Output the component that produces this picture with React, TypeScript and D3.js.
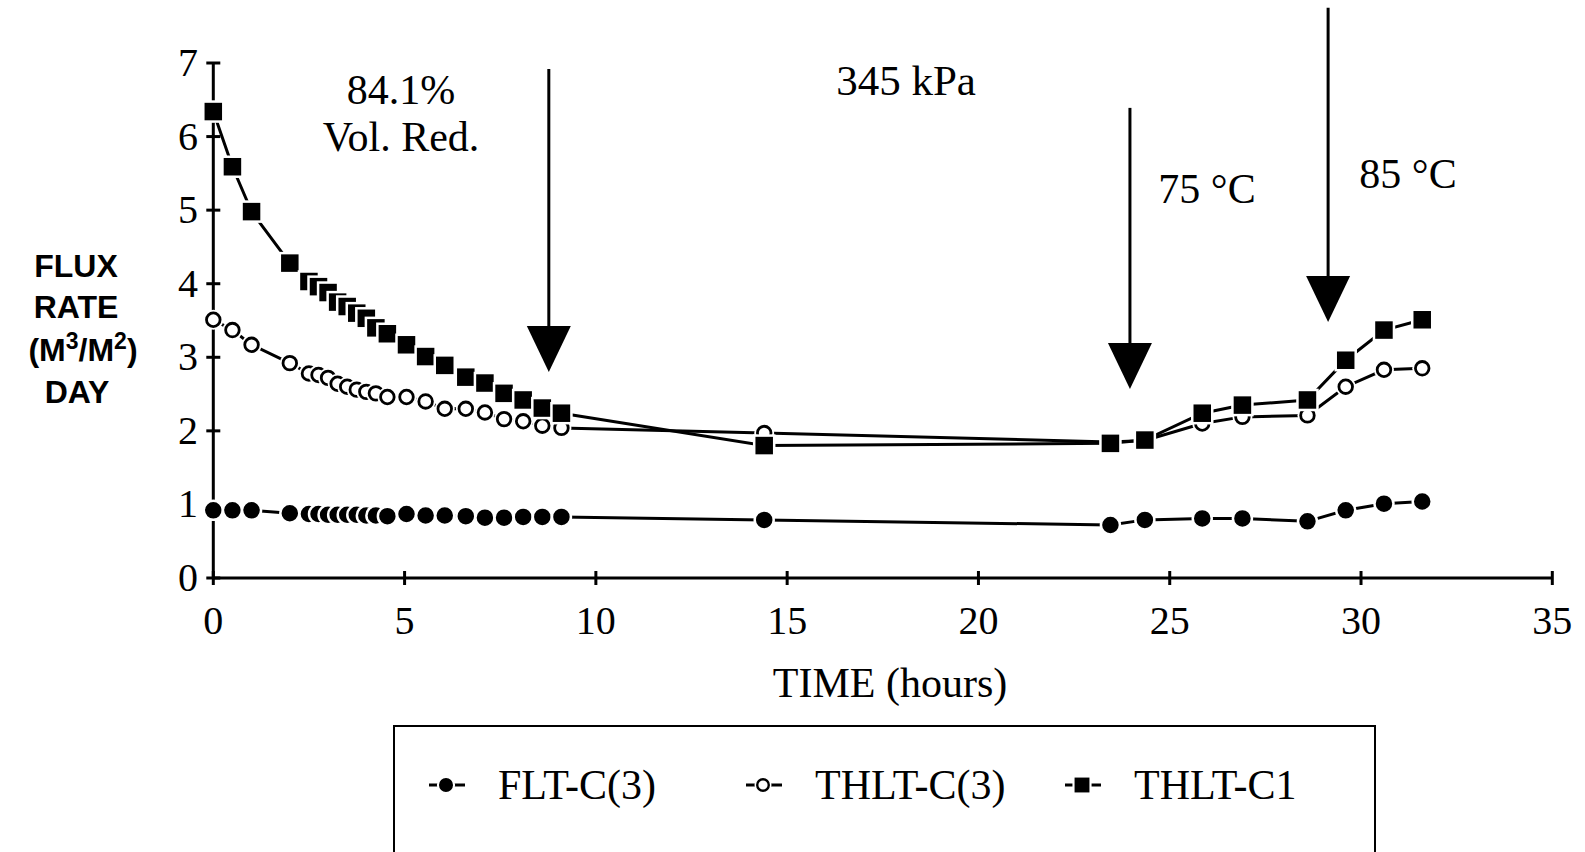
import React from 'react';
import * as d3 from 'd3';

// time points shared by all three runs (hours)
const hours = [0, 0.5, 1, 2, 2.5, 2.75, 3, 3.25, 3.5, 3.75, 4, 4.25, 4.55, 5.05, 5.55, 6.05, 6.6, 7.1, 7.6, 8.1, 8.6, 9.1, 14.4, 23.45, 24.35, 25.85, 26.9, 28.6, 29.6, 30.6, 31.6];

const fltC3 = [0.92, 0.92, 0.92, 0.88, 0.87, 0.87, 0.86, 0.86, 0.86, 0.86, 0.85, 0.85, 0.84, 0.87, 0.85, 0.85, 0.84, 0.82, 0.82, 0.83, 0.83, 0.83, 0.79, 0.72, 0.79, 0.81, 0.81, 0.77, 0.92, 1.01, 1.04];
const thltC3 = [3.51, 3.37, 3.17, 2.92, 2.78, 2.76, 2.72, 2.64, 2.6, 2.56, 2.53, 2.51, 2.46, 2.46, 2.4, 2.3, 2.3, 2.25, 2.16, 2.13, 2.07, 2.04, 1.97, 1.85, 1.87, 2.1, 2.19, 2.21, 2.6, 2.83, 2.85];
const thltC1 = [6.34, 5.59, 4.98, 4.28, 4.03, 3.96, 3.88, 3.75, 3.69, 3.6, 3.53, 3.4, 3.32, 3.17, 3.01, 2.89, 2.73, 2.65, 2.51, 2.42, 2.31, 2.24, 1.8, 1.83, 1.875, 2.24, 2.35, 2.42, 2.96, 3.37, 3.51];

const seriesNames = ['FLT-C(3)', 'THLT-C(3)', 'THLT-C1'];
const xTicks = [0, 5, 10, 15, 20, 25, 30, 35];
const yTicks = [0, 1, 2, 3, 4, 5, 6, 7];

// arrows: time, top value, tip value
const arrowHours = [8.77, 23.96, 29.14];
const arrowTops = [6.92, 6.39, 7.75];
const arrowTips = [2.8, 2.57, 3.48];

const serif = '"Liberation Serif", "Times New Roman", serif';
const sans = '"Liberation Sans", Arial, sans-serif';

function Marker({ kind, x, y, s = 1 }: { kind: number; x: number; y: number; s?: number }) {
  if (kind === 0) {
    return (
      <circle cx={x} cy={y} r={9.5 * s} fill="#000" stroke="#fff" strokeWidth={2.5 * s} />
    );
  }
  if (kind === 1) {
    return (
      <g>
        <circle cx={x} cy={y} r={10 * s} fill="#fff" />
        <circle cx={x} cy={y} r={6.8 * s} fill="#fff" stroke="#000" strokeWidth={2.8 * s} />
      </g>
    );
  }
  const h = 10 * s;
  return (
    <rect x={x - h} y={y - h} width={2 * h} height={2 * h} fill="#000" stroke="#fff" strokeWidth={2.5 * s} />
  );
}

export default function App() {
  const x = d3.scaleLinear().domain([0, 35]).range([213.3, 1552.3]);
  const y = d3.scaleLinear().domain([0, 7]).range([578, 63]);

  const all = [fltC3, thltC3, thltC1];
  const line = d3
    .line<number>()
    .x((d, i) => x(hours[i]))
    .y((d) => y(d));

  const legendX = [446, 763, 1082];

  return (
    <svg
      width={1585}
      height={852}
      style={{ position: 'absolute', left: 0, top: 0, background: '#fff' }}
    >
      <rect width={1585} height={852} fill="#fff" />

      {/* axes */}
      <line x1={x(0)} x2={x(35)} y1={y(0)} y2={y(0)} stroke="#000" strokeWidth={3} />
      <line x1={x(0)} x2={x(0)} y1={y(0)} y2={y(7)} stroke="#000" strokeWidth={3} />
      {xTicks.map((t) => (
        <g key={'x' + t}>
          <line x1={x(t)} x2={x(t)} y1={y(0) - 7} y2={y(0) + 7} stroke="#000" strokeWidth={3} />
          <text x={x(t)} y={634} textAnchor="middle" fontFamily={serif} fontSize={40}>
            {t}
          </text>
        </g>
      ))}
      {yTicks.map((t) => (
        <g key={'y' + t}>
          <line x1={x(0) - 7} x2={x(0) + 7} y1={y(t)} y2={y(t)} stroke="#000" strokeWidth={3} />
          <text x={198} y={y(t) + 13} textAnchor="end" fontFamily={serif} fontSize={40}>
            {t}
          </text>
        </g>
      ))}

      <text x={890} y={697} textAnchor="middle" fontFamily={serif} fontSize={42}>
        TIME (hours)
      </text>

      <g fontFamily={sans} fontWeight="bold" fontSize={32} textAnchor="middle">
        <text x={76} y={277}>FLUX</text>
        <text x={76} y={318}>RATE</text>
        <text x={83} y={361}>
          (M<tspan fontSize={23} dy={-12}>3</tspan>
          <tspan dy={12}>/M</tspan>
          <tspan fontSize={23} dy={-12}>2</tspan>
          <tspan dy={12}>)</tspan>
        </text>
        <text x={77} y={403}>DAY</text>
      </g>

      {/* annotations */}
      <g fontFamily={serif} fontSize={42} textAnchor="middle">
        <text x={401} y={104}>84.1%</text>
        <text x={401} y={151}>Vol. Red.</text>
        <text x={906} y={95} fontSize={43}>345 kPa</text>
        <text x={1207} y={203}>75 °C</text>
        <text x={1408} y={188}>85 °C</text>
      </g>
      {arrowHours.map((h, i) => {
        const ax = x(h);
        const tip = y(arrowTips[i]);
        return (
          <g key={'a' + i}>
            <line x1={ax} x2={ax} y1={y(arrowTops[i])} y2={tip - 40} stroke="#000" strokeWidth={3} />
            <path d={`M${ax - 22},${tip - 46} L${ax + 22},${tip - 46} L${ax},${tip} Z`} fill="#000" />
          </g>
        );
      })}

      {/* series lines */}
      {all.map((vals, k) => (
        <path key={'l' + k} d={line(vals) || ''} fill="none" stroke="#000" strokeWidth={3} />
      ))}
      {/* markers, drawn in order so later ones overlap earlier */}
      {all.map((vals, k) => (
        <g key={'m' + k}>
          {vals.map((v, i) => (
            <Marker key={i} kind={k} x={x(hours[i])} y={y(v)} />
          ))}
        </g>
      ))}

      {/* legend */}
      <rect x={394} y={726} width={981} height={140} fill="none" stroke="#000" strokeWidth={2} />
      {seriesNames.map((name, k) => (
        <g key={'lg' + k}>
          <line x1={legendX[k] - 17} x2={legendX[k] + 19} y1={785} y2={785} stroke="#000" strokeWidth={3} />
          <Marker kind={k} x={legendX[k]} y={785} s={0.85} />
          <text x={legendX[k] + 52} y={799} fontFamily={serif} fontSize={42}>
            {name}
          </text>
        </g>
      ))}
    </svg>
  );
}
